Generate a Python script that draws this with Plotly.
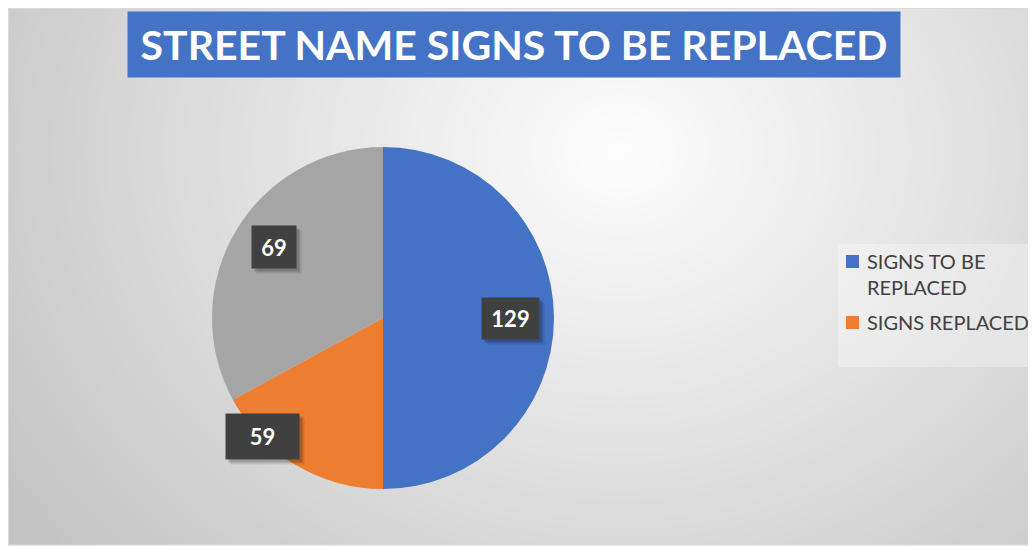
import plotly.graph_objects as go

# ---------------- data ----------------
categories = ["SIGNS TO BE REPLACED", "SIGNS REPLACED", ""]
# slice sizes as drawn
slice_values = [129, 44, 85]
# numbers printed in the data labels
label_values = [129, 59, 69]
legend_labels = ["SIGNS TO BE<br>REPLACED", "SIGNS REPLACED"]
title_text = "STREET NAME SIGNS TO BE REPLACED"

# ---------------- style ----------------
colors = ["#4472C4", "#ED7D31", "#A5A5A5"]
W, H = 1036, 546
FONT = "Lato"
OFF = 8  # page body margin


def px(x):
    return (x - OFF) / W


def py(y):
    return 1 - (y - OFF) / H


# pie geometry (window pixels)
pie_cx, pie_cy, pie_r = 383, 318, 171

# data label boxes (center, size) in window pixels
label_centers = [(510, 318), (262, 436), (274, 247)]
label_sizes = [(57, 41), (73, 45), (44, 42)]

fig = go.Figure()
fig.add_trace(go.Pie(
    labels=categories,
    values=slice_values,
    marker=dict(colors=colors, line=dict(width=0)),
    sort=False,
    direction="clockwise",
    rotation=0,
    textinfo="none",
    hoverinfo="label",
    showlegend=False,
    domain=dict(x=[px(pie_cx - pie_r), px(pie_cx + pie_r)],
                y=[py(pie_cy + pie_r), py(pie_cy - pie_r)]),
))

shapes = []
# radial gradient background
gcx, gcy, R = 620, 150, 780
N = 70
for i in range(N):
    t = 1 - i / N
    c = int(round(253 - 60 * t))
    shapes.append(dict(type="circle", xref="paper", yref="paper", layer="below",
                       x0=px(gcx - R * t), x1=px(gcx + R * t),
                       y0=py(gcy + R * t * 0.85), y1=py(gcy - R * t * 0.85),
                       fillcolor=f"rgb({c},{c},{c})", line=dict(width=0)))
# white strip at bottom + chart border
shapes.append(dict(type="rect", xref="paper", yref="paper", layer="above",
                   x0=0, x1=1, y0=-0.1, y1=py(545), fillcolor="white", line=dict(width=0)))
shapes.append(dict(type="rect", xref="paper", yref="paper", layer="above",
                   x0=px(8.5), x1=px(1060), y0=py(545), y1=py(8.5),
                   line=dict(color="#d9d9d9", width=1)))
# legend box
shapes.append(dict(type="rect", xref="paper", yref="paper", layer="below",
                   x0=px(838), x1=px(1060), y0=py(367), y1=py(244),
                   fillcolor="rgba(255,255,255,0.3)", line=dict(width=0)))
# legend swatches
sw_tops = [255, 316]
for col, top in zip(colors[:2], sw_tops):
    shapes.append(dict(type="rect", xref="paper", yref="paper", layer="above",
                       x0=px(846), x1=px(859), y0=py(top + 13), y1=py(top),
                       fillcolor=col, line=dict(width=0)))

annotations = []
# title
annotations.append(dict(text=f"<b>{title_text}</b>", xref="paper", yref="paper",
                        x=px(514), y=py(44.5), xanchor="center", yanchor="middle",
                        showarrow=False, width=772, height=65, borderpad=0,
                        bgcolor="#4472C4",
                        font=dict(family=FONT, size=41, color="white")))
# legend text
leg_centers = [274, 322]
for lab, cy in zip(legend_labels, leg_centers):
    annotations.append(dict(text=lab, xref="paper", yref="paper",
                            x=px(865), y=py(cy), xanchor="left", yanchor="middle",
                            align="left", showarrow=False,
                            font=dict(family=FONT, size=20, color="#404040")))
# data labels with shadow
for v, (cx, cy), (bw, bh) in zip(label_values, label_centers, label_sizes):
    for off, a in [(5, 0.10), (3, 0.18)]:
        annotations.append(dict(text="", xref="paper", yref="paper",
                                x=px(cx + off), y=py(cy + off), xanchor="center",
                                yanchor="middle", showarrow=False, width=bw, height=bh,
                                borderpad=0, bgcolor=f"rgba(0,0,0,{a})"))
    annotations.append(dict(text=f"<b>{v}</b>", xref="paper", yref="paper",
                            x=px(cx), y=py(cy), xanchor="center", yanchor="middle",
                            showarrow=False, width=bw, height=bh, borderpad=0,
                            bgcolor="#404040",
                            font=dict(family=FONT, size=22, color="white")))

fig.update_layout(
    width=W, height=H,
    margin=dict(l=0, r=0, t=0, b=0),
    paper_bgcolor="white",
    plot_bgcolor="white",
    shapes=shapes,
    annotations=annotations,
)

fig.write_html("out.html")
